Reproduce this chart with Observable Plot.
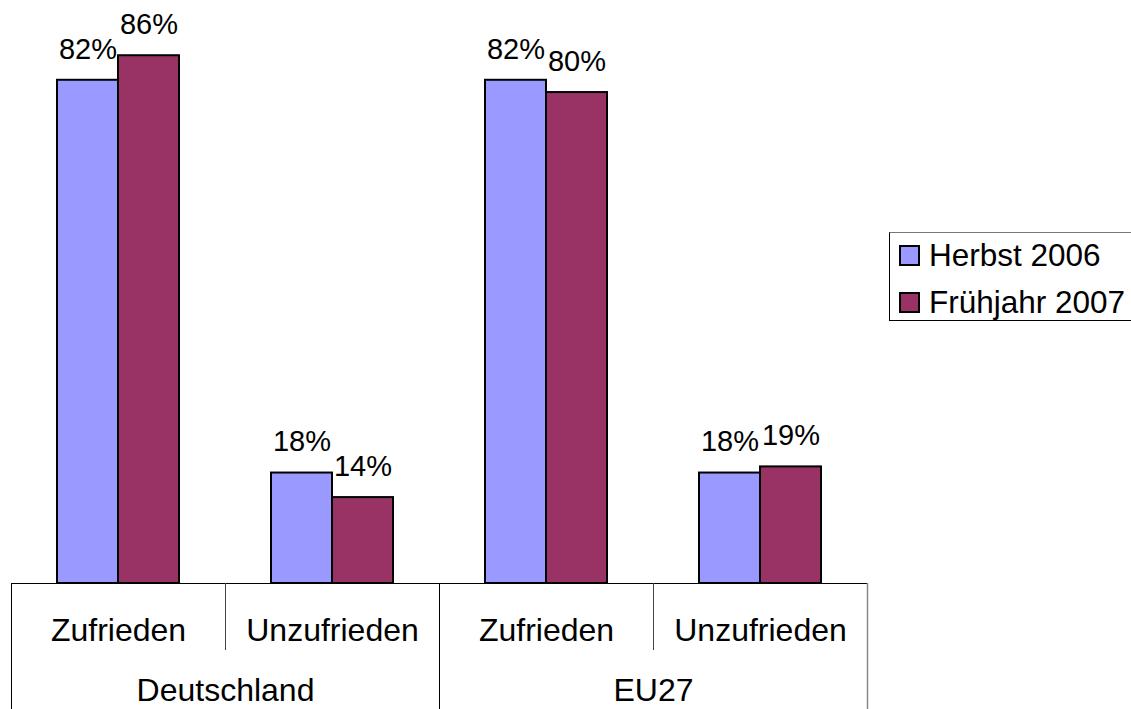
<!DOCTYPE html>
<html>
<head>
<meta charset="utf-8">
<script src="https://cdn.jsdelivr.net/npm/d3@7"></script>
<script src="https://cdn.jsdelivr.net/npm/@observablehq/plot@0.6"></script>
<style>
  html, body { margin: 0; padding: 0; background: #fff; }
  #wrap { position: relative; width: 1131px; height: 709px; overflow: hidden; font-family: "Liberation Sans", Arial, sans-serif; }
  #chart { position: absolute; left: 0; top: 0; }
  #legend { position: absolute; left: 889px; top: 232px; width: 260px; height: 89px; border: 1px solid #000; border-top-color: #777; box-sizing: border-box; }
  .item { position: absolute; left: 9px; height: 22px; display: flex; align-items: center; font-size: 31.5px; color: #000; white-space: nowrap; }
  .sw { width: 17px; height: 17px; border: 2px solid #000; margin-right: 9px; flex: none; }
</style>
</head>
<body>
<div id="wrap">
  <div id="chart"></div>
  <div id="legend"></div>
</div>
<script>
// ---- data ----
const groups = ["Deutschland", "Deutschland", "EU27", "EU27"];
const subcats = ["Zufrieden", "Unzufrieden", "Zufrieden", "Unzufrieden"];
const series = ["Herbst 2006", "Frühjahr 2007"];
const herbst2006 = [82, 18, 82, 18];
const fruehjahr2007 = [86, 14, 80, 19];
const seriesColors = ["#9999FF", "#993366"];

// ---- build table ----
const keys = subcats.map((s, i) => groups[i] + "|" + s);
const rows = [];
keys.forEach((k, i) => {
  rows.push({key: k, series: series[0], value: herbst2006[i]});
  rows.push({key: k, series: series[1], value: fruehjahr2007[i]});
});
const subRows = keys.map((k, i) => ({key: k, sub: subcats[i]}));
const groupNames = [...new Set(groups)];
const groupRows = groupNames.map(g => ({key: keys[groups.indexOf(g)], group: g}));

const chart = Plot.plot({
  width: 880,
  height: 709,
  marginLeft: 11,
  marginRight: 13,
  marginTop: 0,
  marginBottom: 126,
  style: {fontFamily: "'Liberation Sans', Arial, sans-serif", background: "transparent", overflow: "visible"},
  fx: {domain: keys, padding: 0, axis: null},
  x: {domain: series, paddingInner: 0, paddingOuter: 0.754, axis: null},
  y: {domain: [0, 95], axis: null},
  color: {domain: series, range: seriesColors},
  marks: [
    Plot.barY(rows, {fx: "key", x: "series", y: "value", fill: "series", stroke: "#000", strokeWidth: 2}),
    Plot.text(rows, {fx: "key", x: "series", y: "value", text: d => d.value + "%", lineAnchor: "middle", dy: -31, fontSize: 29, fill: "#000"}),
    Plot.ruleY([0], {stroke: "#000", strokeWidth: 1}),
    Plot.text(subRows, {fx: "key", text: "sub", frameAnchor: "bottom", lineAnchor: "middle", dy: 47, fontSize: 32, fill: "#000"}),
    Plot.text(groupRows, {fx: "key", text: "group", frameAnchor: "bottom-right", lineAnchor: "middle", textAnchor: "middle", dy: 107, fontSize: 32, fill: "#000"})
  ]
});
document.getElementById("chart").appendChild(chart);

// ---- category divider lines from the fx scale ----
const fxs = chart.scale("fx");
const y0 = chart.scale("y").apply(0);
const svg = d3.select(chart);
const g = svg.append("g");
keys.forEach((k, i) => {
  const x = Math.round(fxs.apply(k)) + 0.5;
  const firstOfGroup = i === 0 || groups[i] !== groups[i - 1];
  g.append("line")
    .attr("x1", x).attr("x2", x)
    .attr("y1", y0).attr("y2", firstOfGroup ? 709 : y0 + 67)
    .attr("stroke", firstOfGroup ? "#000" : "#444").attr("stroke-width", 1);
});
const xr = Math.round(fxs.apply(keys[keys.length - 1]) + fxs.bandwidth) + 0.5;
g.append("line").attr("x1", xr).attr("x2", xr).attr("y1", y0).attr("y2", 709)
  .attr("stroke", "#888").attr("stroke-width", 1.5);

// ---- legend ----
const legend = document.getElementById("legend");
series.forEach((s, i) => {
  const it = document.createElement("div");
  it.className = "item";
  it.style.top = (i === 0 ? 11 : 58) + "px";
  const sw = document.createElement("div");
  sw.className = "sw";
  sw.style.background = seriesColors[i];
  it.appendChild(sw);
  it.appendChild(document.createTextNode(s));
  legend.appendChild(it);
});
</script>
</body>
</html>
